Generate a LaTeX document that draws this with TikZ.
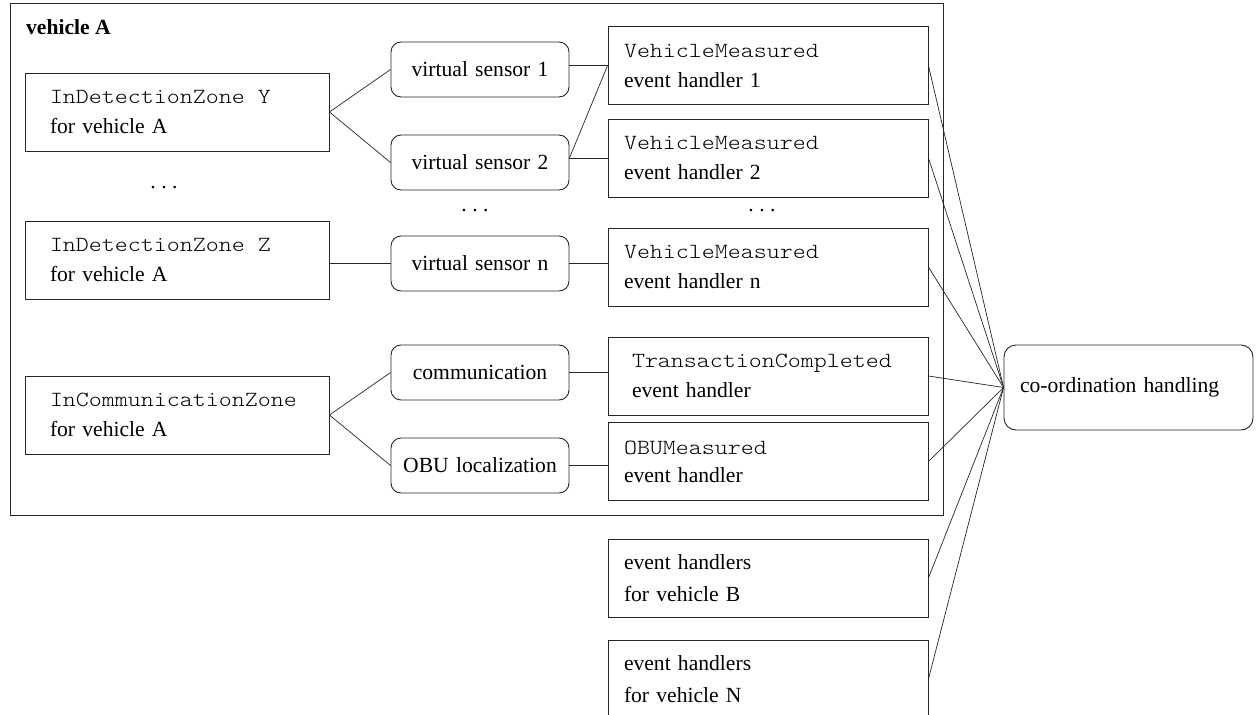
\documentclass[tikz,border=0pt]{standalone}
\usepackage{fontspec}
\setmainfont{Liberation Serif}
\setmonofont{lmmonolt10-regular.otf}[FakeStretch=1.146]
\newcommand{\spreaddots}{.\kern5.5pt.\kern5.5pt.}
\newcommand{\ttsp}{\kern13pt}
\begin{document}
\begin{tikzpicture}[x=1pt,y=-1pt,
  every node/.style={font=\fontsize{21.6}{30}\selectfont, inner ysep=0pt},
  boxline/.style={draw=black!85, line width=0.9pt},
  zone/.style={boxline, minimum width=304pt, minimum height=78pt, text width=254pt, inner xsep=25pt, align=left},
  sensor/.style={boxline, rounded corners=10pt, minimum width=178pt, minimum height=55pt, text width=162pt, inner xsep=8pt, align=center},
  handler/.style={boxline, minimum width=320pt, minimum height=78pt, text width=288pt, inner xsep=16pt, align=left},
  conn/.style={draw=black!85, line width=0.7pt},
  dotmark/.style={inner sep=0pt}]
\useasboundingbox (0,0) rectangle (1256,715);
\node[boxline, minimum width=933pt, minimum height=512pt, inner sep=0pt] (frame) at (476.5,259) {};
\node[anchor=base west, font=\fontsize{21.6}{30}\selectfont\bfseries, inner sep=0pt] (title) at (26,34) {vehicle A};

\node[zone] (idzy) at (177,112) {\texttt{InDetectionZone\ttsp Y}\\for vehicle A};
\node[zone] (idzz) at (177,260) {\texttt{InDetectionZone\ttsp Z}\\for vehicle A};
\node[zone] (icz) at (177,415) {\texttt{InCommunicationZone}\\for vehicle A};

\node[sensor] (vs1) at (480,69.5) {virtual sensor 1};
\node[sensor] (vs2) at (480,162.5) {virtual sensor 2};
\node[sensor] (vsn) at (480,263.5) {virtual sensor n};
\node[sensor] (comm) at (480,372.5) {communication};
\node[sensor] (obul) at (480,465.5) {OBU localization};

\node[handler] (vm1) at (768,65.5) {\texttt{VehicleMeasured}\\event handler 1};
\node[handler] (vm2) at (768,158) {\texttt{VehicleMeasured}\\event handler 2};
\node[handler] (vmn) at (768,267) {\texttt{VehicleMeasured}\\event handler n};
\node[handler, inner xsep=24pt, text width=272pt] (tc) at (768,376) {\texttt{TransactionCompleted}\\event handler};
\node[handler, font=\fontsize{21.6}{28}\selectfont] (obu) at (768,461.5) {\texttt{OBUMeasured}\\event handler};
\node[handler, font=\fontsize{21.6}{32}\selectfont] (vb) at (768,578) {event handlers\\for vehicle B};
\node[handler, font=\fontsize{21.6}{32}\selectfont] (vn) at (768,679) {event handlers\\for vehicle N};

\node[boxline, rounded corners=12pt, minimum width=249pt, minimum height=85pt, text width=217pt, inner xsep=16pt, align=left] (coord) at (1128.5,387.5) {co-ordination handling};

\node[dotmark] (d1) at (164,188) {\spreaddots};
\node[dotmark] (d2) at (475,211) {\spreaddots};
\node[dotmark] (d3) at (762,211) {\spreaddots};

\draw[conn] (idzy.east) -- (vs1.west);
\draw[conn] (idzy.east) -- (vs2.west);
\draw[conn] (vsn.west) -- (vsn.west -| idzz.east);
\draw[conn] (icz.east) -- (comm.west);
\draw[conn] (icz.east) -- (obul.west);

\draw[conn] (vs1.east |- vm1.west) -- (vm1.west);
\draw[conn] (vs2.east |- vm2.west) -- (vm1.west);
\draw[conn] (vs2.east |- vm2.west) -- (vm2.west);
\draw[conn] (vsn.east) -- (vsn.east -| vmn.west);
\draw[conn] (comm.east) -- (comm.east -| tc.west);
\draw[conn] (obul.east) -- (obul.east -| obu.west);

\foreach \h in {vm1,vm2,vmn,tc,obu,vb,vn}
  \draw[conn] (\h.east) -- (coord.west);
\end{tikzpicture}
\end{document}
